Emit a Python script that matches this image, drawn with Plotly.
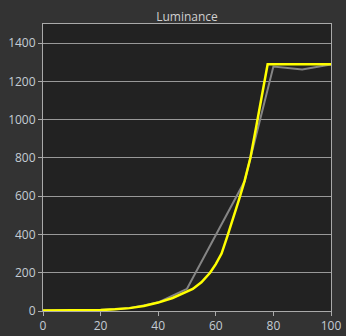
import plotly.graph_objects as go

# Measured (gray) series
gray_x = [0, 10, 20, 30, 40, 50, 60, 70, 80, 90, 100]
gray_y = [2, 3, 5, 15, 45, 116, 398, 678, 1278, 1262, 1288]

# Target (yellow) series
yellow_x = [0, 10, 15, 20, 25, 30, 35, 40, 45, 50, 52, 55, 58, 60, 62, 64, 66, 68, 70, 72, 74, 76, 77, 78, 100]
yellow_y = [2, 3, 4, 5, 9, 15, 26, 44, 68, 99, 115, 150, 200, 245, 300, 390, 480, 580, 680, 800, 960, 1120, 1200, 1290, 1290]

x_ticks = [0, 20, 40, 60, 80, 100]
y_ticks = [0, 200, 400, 600, 800, 1000, 1200, 1400]

fig = go.Figure()
fig.add_trace(go.Scatter(x=gray_x, y=gray_y, mode="lines",
                         line=dict(color="#858585", width=2), hoverinfo="skip"))
fig.add_trace(go.Scatter(x=yellow_x, y=yellow_y, mode="lines",
                         line=dict(color="#ffff00", width=2.5), hoverinfo="skip"))

axis_font = dict(family="Open Sans, DejaVu Sans, sans-serif", size=12, color="#c4ccd4")
fig.update_layout(
    width=346, height=336,
    margin=dict(l=43, r=15, t=24, b=25),
    paper_bgcolor="#333333",
    plot_bgcolor="#222222",
    showlegend=False,
    title=dict(text="Luminance", x=0.5, xref="paper", xanchor="center",
               y=1 - 17 / 336, yref="container", yanchor="middle",
               font=dict(family="Open Sans, DejaVu Sans, sans-serif", size=12, color="#d0d0d0")),
    xaxis=dict(range=[0, 100], tickvals=x_ticks, ticks="outside", ticklen=4, tickcolor="#aaaaaa",
               showgrid=False, zeroline=False, showline=True, linecolor="#aaaaaa", mirror=True,
               tickfont=axis_font, automargin=False),
    yaxis=dict(range=[0, 1500], tickvals=y_ticks, ticks="outside", ticklen=4, tickcolor="#aaaaaa",
               showgrid=True, gridcolor="#999999", gridwidth=1, zeroline=False,
               showline=True, linecolor="#aaaaaa", mirror=True, tickfont=axis_font,
               automargin=False),
)
fig.write_html("out.html")
